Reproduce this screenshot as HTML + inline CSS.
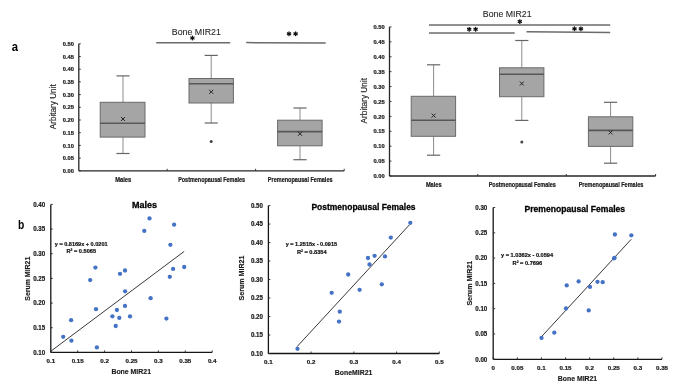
<!DOCTYPE html>
<html><head><meta charset="utf-8"><style>
html,body{margin:0;padding:0;background:#fff;}
body{width:685px;height:385px;overflow:hidden;}
svg{display:block;font-family:"Liberation Sans", sans-serif;will-change:transform;}
</style></head><body>
<svg width="685" height="385" viewBox="0 0 685 385">
<rect width="685" height="385" fill="#fff"/>
<line x1="78.80" y1="43.80" x2="78.80" y2="170.80" stroke="#262626" stroke-width="1.3"/>
<line x1="78.80" y1="170.80" x2="344.20" y2="170.80" stroke="#262626" stroke-width="1.3"/>
<line x1="78.80" y1="170.80" x2="80.80" y2="170.80" stroke="#262626" stroke-width="0.9"/>
<text x="74.0" y="172.95000000000002" font-size="5.9" font-weight="bold" text-anchor="end" fill="#1a1a1a" textLength="11.2" lengthAdjust="spacingAndGlyphs" stroke="#1a1a1a" stroke-width="0.2">0.00</text>
<line x1="78.80" y1="158.10" x2="80.80" y2="158.10" stroke="#262626" stroke-width="0.9"/>
<text x="74.0" y="160.25000000000003" font-size="5.9" font-weight="bold" text-anchor="end" fill="#1a1a1a" textLength="11.2" lengthAdjust="spacingAndGlyphs" stroke="#1a1a1a" stroke-width="0.2">0.05</text>
<line x1="78.80" y1="145.40" x2="80.80" y2="145.40" stroke="#262626" stroke-width="0.9"/>
<text x="74.0" y="147.55" font-size="5.9" font-weight="bold" text-anchor="end" fill="#1a1a1a" textLength="11.2" lengthAdjust="spacingAndGlyphs" stroke="#1a1a1a" stroke-width="0.2">0.10</text>
<line x1="78.80" y1="132.70" x2="80.80" y2="132.70" stroke="#262626" stroke-width="0.9"/>
<text x="74.0" y="134.85000000000002" font-size="5.9" font-weight="bold" text-anchor="end" fill="#1a1a1a" textLength="11.2" lengthAdjust="spacingAndGlyphs" stroke="#1a1a1a" stroke-width="0.2">0.15</text>
<line x1="78.80" y1="120.00" x2="80.80" y2="120.00" stroke="#262626" stroke-width="0.9"/>
<text x="74.0" y="122.15" font-size="5.9" font-weight="bold" text-anchor="end" fill="#1a1a1a" textLength="11.2" lengthAdjust="spacingAndGlyphs" stroke="#1a1a1a" stroke-width="0.2">0.20</text>
<line x1="78.80" y1="107.30" x2="80.80" y2="107.30" stroke="#262626" stroke-width="0.9"/>
<text x="74.0" y="109.45000000000002" font-size="5.9" font-weight="bold" text-anchor="end" fill="#1a1a1a" textLength="11.2" lengthAdjust="spacingAndGlyphs" stroke="#1a1a1a" stroke-width="0.2">0.25</text>
<line x1="78.80" y1="94.60" x2="80.80" y2="94.60" stroke="#262626" stroke-width="0.9"/>
<text x="74.0" y="96.75000000000001" font-size="5.9" font-weight="bold" text-anchor="end" fill="#1a1a1a" textLength="11.2" lengthAdjust="spacingAndGlyphs" stroke="#1a1a1a" stroke-width="0.2">0.30</text>
<line x1="78.80" y1="81.90" x2="80.80" y2="81.90" stroke="#262626" stroke-width="0.9"/>
<text x="74.0" y="84.05000000000001" font-size="5.9" font-weight="bold" text-anchor="end" fill="#1a1a1a" textLength="11.2" lengthAdjust="spacingAndGlyphs" stroke="#1a1a1a" stroke-width="0.2">0.35</text>
<line x1="78.80" y1="69.20" x2="80.80" y2="69.20" stroke="#262626" stroke-width="0.9"/>
<text x="74.0" y="71.35000000000001" font-size="5.9" font-weight="bold" text-anchor="end" fill="#1a1a1a" textLength="11.2" lengthAdjust="spacingAndGlyphs" stroke="#1a1a1a" stroke-width="0.2">0.40</text>
<line x1="78.80" y1="56.50" x2="80.80" y2="56.50" stroke="#262626" stroke-width="0.9"/>
<text x="74.0" y="58.65" font-size="5.9" font-weight="bold" text-anchor="end" fill="#1a1a1a" textLength="11.2" lengthAdjust="spacingAndGlyphs" stroke="#1a1a1a" stroke-width="0.2">0.45</text>
<line x1="78.80" y1="43.80" x2="80.80" y2="43.80" stroke="#262626" stroke-width="0.9"/>
<text x="74.0" y="45.949999999999996" font-size="5.9" font-weight="bold" text-anchor="end" fill="#1a1a1a" textLength="11.2" lengthAdjust="spacingAndGlyphs" stroke="#1a1a1a" stroke-width="0.2">0.50</text>
<line x1="167.20" y1="170.80" x2="167.20" y2="168.80" stroke="#262626" stroke-width="0.9"/>
<line x1="255.60" y1="170.80" x2="255.60" y2="168.80" stroke="#262626" stroke-width="0.9"/>
<line x1="344.20" y1="170.80" x2="344.20" y2="168.80" stroke="#262626" stroke-width="0.9"/>
<text transform="translate(55.9,106.8) rotate(-90)" font-size="8.2" text-anchor="middle" fill="#262626" stroke="#262626" stroke-width="0.15" textLength="45" lengthAdjust="spacingAndGlyphs">Arbitary Unit</text>
<text x="123.2" y="181.6" font-size="6.3" font-weight="bold" text-anchor="middle" fill="#1a1a1a" textLength="16.1" lengthAdjust="spacingAndGlyphs" stroke="#1a1a1a" stroke-width="0.2">Males</text>
<text x="211.6" y="181.6" font-size="6.3" font-weight="bold" text-anchor="middle" fill="#1a1a1a" textLength="66.9" lengthAdjust="spacingAndGlyphs" stroke="#1a1a1a" stroke-width="0.2">Postmenopausal Females</text>
<text x="300.2" y="181.6" font-size="6.3" font-weight="bold" text-anchor="middle" fill="#1a1a1a" textLength="64.7" lengthAdjust="spacingAndGlyphs" stroke="#1a1a1a" stroke-width="0.2">Premenopausal Females</text>
<line x1="123.00" y1="75.90" x2="123.00" y2="102.30" stroke="#8c8c8c" stroke-width="1"/>
<line x1="123.00" y1="137.10" x2="123.00" y2="153.50" stroke="#8c8c8c" stroke-width="1"/>
<line x1="116.40" y1="75.90" x2="129.60" y2="75.90" stroke="#666" stroke-width="1.2"/>
<line x1="116.40" y1="153.50" x2="129.60" y2="153.50" stroke="#666" stroke-width="1.2"/>
<rect x="100.20" y="102.30" width="44.80" height="34.80" fill="#a5a5a5" stroke="#6a6a6a" stroke-width="1"/>
<line x1="100.20" y1="123.20" x2="145.00" y2="123.20" stroke="#585858" stroke-width="1.6"/>
<line x1="121.00" y1="117.00" x2="125.00" y2="121.00" stroke="#262626" stroke-width="1.0"/>
<line x1="121.00" y1="121.00" x2="125.00" y2="117.00" stroke="#262626" stroke-width="1.0"/>
<line x1="211.20" y1="55.40" x2="211.20" y2="78.50" stroke="#8c8c8c" stroke-width="1"/>
<line x1="211.20" y1="103.00" x2="211.20" y2="123.00" stroke="#8c8c8c" stroke-width="1"/>
<line x1="204.60" y1="55.40" x2="217.80" y2="55.40" stroke="#666" stroke-width="1.2"/>
<line x1="204.60" y1="123.00" x2="217.80" y2="123.00" stroke="#666" stroke-width="1.2"/>
<rect x="189.00" y="78.50" width="44.40" height="24.50" fill="#a5a5a5" stroke="#6a6a6a" stroke-width="1"/>
<line x1="189.00" y1="83.70" x2="233.40" y2="83.70" stroke="#585858" stroke-width="1.6"/>
<line x1="209.20" y1="89.80" x2="213.20" y2="93.80" stroke="#262626" stroke-width="1.0"/>
<line x1="209.20" y1="93.80" x2="213.20" y2="89.80" stroke="#262626" stroke-width="1.0"/>
<circle cx="211.20" cy="141.50" r="1.5" fill="#444"/>
<line x1="300.00" y1="108.00" x2="300.00" y2="120.20" stroke="#8c8c8c" stroke-width="1"/>
<line x1="300.00" y1="145.80" x2="300.00" y2="159.70" stroke="#8c8c8c" stroke-width="1"/>
<line x1="293.40" y1="108.00" x2="306.60" y2="108.00" stroke="#666" stroke-width="1.2"/>
<line x1="293.40" y1="159.70" x2="306.60" y2="159.70" stroke="#666" stroke-width="1.2"/>
<rect x="277.60" y="120.20" width="44.50" height="25.60" fill="#a5a5a5" stroke="#6a6a6a" stroke-width="1"/>
<line x1="277.60" y1="131.60" x2="322.10" y2="131.60" stroke="#585858" stroke-width="1.6"/>
<line x1="298.00" y1="131.80" x2="302.00" y2="135.80" stroke="#262626" stroke-width="1.0"/>
<line x1="298.00" y1="135.80" x2="302.00" y2="131.80" stroke="#262626" stroke-width="1.0"/>
<line x1="389.50" y1="26.90" x2="389.50" y2="176.00" stroke="#262626" stroke-width="1.3"/>
<line x1="389.50" y1="176.00" x2="655.60" y2="176.00" stroke="#262626" stroke-width="1.3"/>
<line x1="389.50" y1="176.00" x2="391.50" y2="176.00" stroke="#262626" stroke-width="0.9"/>
<text x="384.6" y="178.15" font-size="5.9" font-weight="bold" text-anchor="end" fill="#1a1a1a" textLength="11.2" lengthAdjust="spacingAndGlyphs" stroke="#1a1a1a" stroke-width="0.2">0.00</text>
<line x1="389.50" y1="161.09" x2="391.50" y2="161.09" stroke="#262626" stroke-width="0.9"/>
<text x="384.6" y="163.24" font-size="5.9" font-weight="bold" text-anchor="end" fill="#1a1a1a" textLength="11.2" lengthAdjust="spacingAndGlyphs" stroke="#1a1a1a" stroke-width="0.2">0.05</text>
<line x1="389.50" y1="146.18" x2="391.50" y2="146.18" stroke="#262626" stroke-width="0.9"/>
<text x="384.6" y="148.33" font-size="5.9" font-weight="bold" text-anchor="end" fill="#1a1a1a" textLength="11.2" lengthAdjust="spacingAndGlyphs" stroke="#1a1a1a" stroke-width="0.2">0.10</text>
<line x1="389.50" y1="131.27" x2="391.50" y2="131.27" stroke="#262626" stroke-width="0.9"/>
<text x="384.6" y="133.42" font-size="5.9" font-weight="bold" text-anchor="end" fill="#1a1a1a" textLength="11.2" lengthAdjust="spacingAndGlyphs" stroke="#1a1a1a" stroke-width="0.2">0.15</text>
<line x1="389.50" y1="116.36" x2="391.50" y2="116.36" stroke="#262626" stroke-width="0.9"/>
<text x="384.6" y="118.51" font-size="5.9" font-weight="bold" text-anchor="end" fill="#1a1a1a" textLength="11.2" lengthAdjust="spacingAndGlyphs" stroke="#1a1a1a" stroke-width="0.2">0.20</text>
<line x1="389.50" y1="101.45" x2="391.50" y2="101.45" stroke="#262626" stroke-width="0.9"/>
<text x="384.6" y="103.60000000000001" font-size="5.9" font-weight="bold" text-anchor="end" fill="#1a1a1a" textLength="11.2" lengthAdjust="spacingAndGlyphs" stroke="#1a1a1a" stroke-width="0.2">0.25</text>
<line x1="389.50" y1="86.54" x2="391.50" y2="86.54" stroke="#262626" stroke-width="0.9"/>
<text x="384.6" y="88.69" font-size="5.9" font-weight="bold" text-anchor="end" fill="#1a1a1a" textLength="11.2" lengthAdjust="spacingAndGlyphs" stroke="#1a1a1a" stroke-width="0.2">0.30</text>
<line x1="389.50" y1="71.63" x2="391.50" y2="71.63" stroke="#262626" stroke-width="0.9"/>
<text x="384.6" y="73.78" font-size="5.9" font-weight="bold" text-anchor="end" fill="#1a1a1a" textLength="11.2" lengthAdjust="spacingAndGlyphs" stroke="#1a1a1a" stroke-width="0.2">0.35</text>
<line x1="389.50" y1="56.72" x2="391.50" y2="56.72" stroke="#262626" stroke-width="0.9"/>
<text x="384.6" y="58.87" font-size="5.9" font-weight="bold" text-anchor="end" fill="#1a1a1a" textLength="11.2" lengthAdjust="spacingAndGlyphs" stroke="#1a1a1a" stroke-width="0.2">0.40</text>
<line x1="389.50" y1="41.81" x2="391.50" y2="41.81" stroke="#262626" stroke-width="0.9"/>
<text x="384.6" y="43.96" font-size="5.9" font-weight="bold" text-anchor="end" fill="#1a1a1a" textLength="11.2" lengthAdjust="spacingAndGlyphs" stroke="#1a1a1a" stroke-width="0.2">0.45</text>
<line x1="389.50" y1="26.90" x2="391.50" y2="26.90" stroke="#262626" stroke-width="0.9"/>
<text x="384.6" y="29.050000000000004" font-size="5.9" font-weight="bold" text-anchor="end" fill="#1a1a1a" textLength="11.2" lengthAdjust="spacingAndGlyphs" stroke="#1a1a1a" stroke-width="0.2">0.50</text>
<line x1="477.80" y1="176.00" x2="477.80" y2="174.00" stroke="#262626" stroke-width="0.9"/>
<line x1="566.30" y1="176.00" x2="566.30" y2="174.00" stroke="#262626" stroke-width="0.9"/>
<line x1="655.60" y1="176.00" x2="655.60" y2="174.00" stroke="#262626" stroke-width="0.9"/>
<text transform="translate(366.9,100.7) rotate(-90)" font-size="8.2" text-anchor="middle" fill="#262626" stroke="#262626" stroke-width="0.15" textLength="45.4" lengthAdjust="spacingAndGlyphs">Arbitary Unit</text>
<text x="433.8" y="186.6" font-size="6.3" font-weight="bold" text-anchor="middle" fill="#1a1a1a" textLength="15.8" lengthAdjust="spacingAndGlyphs" stroke="#1a1a1a" stroke-width="0.2">Males</text>
<text x="522.3" y="186.6" font-size="6.3" font-weight="bold" text-anchor="middle" fill="#1a1a1a" textLength="67.2" lengthAdjust="spacingAndGlyphs" stroke="#1a1a1a" stroke-width="0.2">Postmenopausal Females</text>
<text x="611.0" y="186.6" font-size="6.3" font-weight="bold" text-anchor="middle" fill="#1a1a1a" textLength="64.7" lengthAdjust="spacingAndGlyphs" stroke="#1a1a1a" stroke-width="0.2">Premenopausal Females</text>
<line x1="433.60" y1="64.80" x2="433.60" y2="96.30" stroke="#8c8c8c" stroke-width="1"/>
<line x1="433.60" y1="136.30" x2="433.60" y2="155.20" stroke="#8c8c8c" stroke-width="1"/>
<line x1="427.00" y1="64.80" x2="440.20" y2="64.80" stroke="#666" stroke-width="1.2"/>
<line x1="427.00" y1="155.20" x2="440.20" y2="155.20" stroke="#666" stroke-width="1.2"/>
<rect x="411.20" y="96.30" width="44.40" height="40.00" fill="#a5a5a5" stroke="#6a6a6a" stroke-width="1"/>
<line x1="411.20" y1="120.20" x2="455.60" y2="120.20" stroke="#585858" stroke-width="1.6"/>
<line x1="431.60" y1="113.60" x2="435.60" y2="117.60" stroke="#262626" stroke-width="1.0"/>
<line x1="431.60" y1="117.60" x2="435.60" y2="113.60" stroke="#262626" stroke-width="1.0"/>
<line x1="521.80" y1="40.50" x2="521.80" y2="67.80" stroke="#8c8c8c" stroke-width="1"/>
<line x1="521.80" y1="96.70" x2="521.80" y2="120.40" stroke="#8c8c8c" stroke-width="1"/>
<line x1="515.20" y1="40.50" x2="528.40" y2="40.50" stroke="#666" stroke-width="1.2"/>
<line x1="515.20" y1="120.40" x2="528.40" y2="120.40" stroke="#666" stroke-width="1.2"/>
<rect x="499.50" y="67.80" width="44.40" height="28.90" fill="#a5a5a5" stroke="#6a6a6a" stroke-width="1"/>
<line x1="499.50" y1="74.30" x2="543.90" y2="74.30" stroke="#585858" stroke-width="1.6"/>
<line x1="519.80" y1="81.50" x2="523.80" y2="85.50" stroke="#262626" stroke-width="1.0"/>
<line x1="519.80" y1="85.50" x2="523.80" y2="81.50" stroke="#262626" stroke-width="1.0"/>
<circle cx="521.80" cy="141.90" r="1.5" fill="#444"/>
<line x1="610.60" y1="102.30" x2="610.60" y2="116.80" stroke="#8c8c8c" stroke-width="1"/>
<line x1="610.60" y1="146.40" x2="610.60" y2="163.20" stroke="#8c8c8c" stroke-width="1"/>
<line x1="604.00" y1="102.30" x2="617.20" y2="102.30" stroke="#666" stroke-width="1.2"/>
<line x1="604.00" y1="163.20" x2="617.20" y2="163.20" stroke="#666" stroke-width="1.2"/>
<rect x="588.40" y="116.80" width="44.40" height="29.60" fill="#a5a5a5" stroke="#6a6a6a" stroke-width="1"/>
<line x1="588.40" y1="130.40" x2="632.80" y2="130.40" stroke="#585858" stroke-width="1.6"/>
<line x1="608.60" y1="130.40" x2="612.60" y2="134.40" stroke="#262626" stroke-width="1.0"/>
<line x1="608.60" y1="134.40" x2="612.60" y2="130.40" stroke="#262626" stroke-width="1.0"/>
<text x="196.3" y="34.6" font-size="9.8" font-weight="normal" text-anchor="middle" fill="#262626" textLength="49.1" lengthAdjust="spacingAndGlyphs" stroke="#262626" stroke-width="0.1">Bone MIR21</text>
<line x1="156.20" y1="42.70" x2="230.20" y2="42.70" stroke="#6b6b6b" stroke-width="1.5"/>
<line x1="246.20" y1="42.60" x2="325.70" y2="43.00" stroke="#6b6b6b" stroke-width="1.5"/>
<line x1="192.40" y1="35.60" x2="192.40" y2="40.40" stroke="#111" stroke-width="1.25"/><line x1="190.32" y1="36.80" x2="194.48" y2="39.20" stroke="#111" stroke-width="1.25"/><line x1="194.48" y1="36.80" x2="190.32" y2="39.20" stroke="#111" stroke-width="1.25"/>
<line x1="289.00" y1="31.40" x2="289.00" y2="36.20" stroke="#111" stroke-width="1.25"/><line x1="286.92" y1="32.60" x2="291.08" y2="35.00" stroke="#111" stroke-width="1.25"/><line x1="291.08" y1="32.60" x2="286.92" y2="35.00" stroke="#111" stroke-width="1.25"/>
<line x1="295.60" y1="31.40" x2="295.60" y2="36.20" stroke="#111" stroke-width="1.25"/><line x1="293.52" y1="32.60" x2="297.68" y2="35.00" stroke="#111" stroke-width="1.25"/><line x1="297.68" y1="32.60" x2="293.52" y2="35.00" stroke="#111" stroke-width="1.25"/>
<text x="507.2" y="17.4" font-size="9.8" font-weight="normal" text-anchor="middle" fill="#262626" textLength="48.8" lengthAdjust="spacingAndGlyphs" stroke="#262626" stroke-width="0.1">Bone MIR21</text>
<line x1="429.00" y1="24.90" x2="610.20" y2="24.90" stroke="#6b6b6b" stroke-width="1.5"/>
<line x1="429.00" y1="32.90" x2="514.70" y2="32.90" stroke="#6b6b6b" stroke-width="1.5"/>
<line x1="526.50" y1="31.70" x2="610.20" y2="32.50" stroke="#6b6b6b" stroke-width="1.5"/>
<line x1="519.80" y1="19.20" x2="519.80" y2="24.00" stroke="#111" stroke-width="1.25"/><line x1="517.72" y1="20.40" x2="521.88" y2="22.80" stroke="#111" stroke-width="1.25"/><line x1="521.88" y1="20.40" x2="517.72" y2="22.80" stroke="#111" stroke-width="1.25"/>
<line x1="469.20" y1="26.90" x2="469.20" y2="31.70" stroke="#111" stroke-width="1.25"/><line x1="467.12" y1="28.10" x2="471.28" y2="30.50" stroke="#111" stroke-width="1.25"/><line x1="471.28" y1="28.10" x2="467.12" y2="30.50" stroke="#111" stroke-width="1.25"/>
<line x1="475.60" y1="26.90" x2="475.60" y2="31.70" stroke="#111" stroke-width="1.25"/><line x1="473.52" y1="28.10" x2="477.68" y2="30.50" stroke="#111" stroke-width="1.25"/><line x1="477.68" y1="28.10" x2="473.52" y2="30.50" stroke="#111" stroke-width="1.25"/>
<line x1="574.50" y1="26.40" x2="574.50" y2="31.20" stroke="#111" stroke-width="1.25"/><line x1="572.42" y1="27.60" x2="576.58" y2="30.00" stroke="#111" stroke-width="1.25"/><line x1="576.58" y1="27.60" x2="572.42" y2="30.00" stroke="#111" stroke-width="1.25"/>
<line x1="580.90" y1="26.40" x2="580.90" y2="31.20" stroke="#111" stroke-width="1.25"/><line x1="578.82" y1="27.60" x2="582.98" y2="30.00" stroke="#111" stroke-width="1.25"/><line x1="582.98" y1="27.60" x2="578.82" y2="30.00" stroke="#111" stroke-width="1.25"/>
<text x="11.7" y="51.0" font-size="12.5" font-weight="bold" text-anchor="start" fill="#000" textLength="6.3" lengthAdjust="spacingAndGlyphs">a</text>
<text x="18.0" y="229.1" font-size="12" font-weight="bold" text-anchor="start" fill="#000" textLength="6.3" lengthAdjust="spacingAndGlyphs">b</text>
<line x1="50.80" y1="204.40" x2="50.80" y2="352.40" stroke="#151515" stroke-width="1.3"/>
<line x1="50.80" y1="352.40" x2="212.20" y2="352.40" stroke="#151515" stroke-width="1.3"/>
<line x1="50.80" y1="352.40" x2="52.80" y2="352.40" stroke="#262626" stroke-width="0.9"/>
<text x="45.2" y="354.7" font-size="6.4" font-weight="bold" text-anchor="end" fill="#1a1a1a" textLength="12.0" lengthAdjust="spacingAndGlyphs" stroke="#1a1a1a" stroke-width="0.2">0.10</text>
<line x1="50.80" y1="327.73" x2="52.80" y2="327.73" stroke="#262626" stroke-width="0.9"/>
<text x="45.2" y="330.03333333333336" font-size="6.4" font-weight="bold" text-anchor="end" fill="#1a1a1a" textLength="12.0" lengthAdjust="spacingAndGlyphs" stroke="#1a1a1a" stroke-width="0.2">0.15</text>
<line x1="50.80" y1="303.07" x2="52.80" y2="303.07" stroke="#262626" stroke-width="0.9"/>
<text x="45.2" y="305.3666666666667" font-size="6.4" font-weight="bold" text-anchor="end" fill="#1a1a1a" textLength="12.0" lengthAdjust="spacingAndGlyphs" stroke="#1a1a1a" stroke-width="0.2">0.20</text>
<line x1="50.80" y1="278.40" x2="52.80" y2="278.40" stroke="#262626" stroke-width="0.9"/>
<text x="45.2" y="280.7" font-size="6.4" font-weight="bold" text-anchor="end" fill="#1a1a1a" textLength="12.0" lengthAdjust="spacingAndGlyphs" stroke="#1a1a1a" stroke-width="0.2">0.25</text>
<line x1="50.80" y1="253.73" x2="52.80" y2="253.73" stroke="#262626" stroke-width="0.9"/>
<text x="45.2" y="256.03333333333336" font-size="6.4" font-weight="bold" text-anchor="end" fill="#1a1a1a" textLength="12.0" lengthAdjust="spacingAndGlyphs" stroke="#1a1a1a" stroke-width="0.2">0.30</text>
<line x1="50.80" y1="229.07" x2="52.80" y2="229.07" stroke="#262626" stroke-width="0.9"/>
<text x="45.2" y="231.3666666666667" font-size="6.4" font-weight="bold" text-anchor="end" fill="#1a1a1a" textLength="12.0" lengthAdjust="spacingAndGlyphs" stroke="#1a1a1a" stroke-width="0.2">0.35</text>
<line x1="50.80" y1="204.40" x2="52.80" y2="204.40" stroke="#262626" stroke-width="0.9"/>
<text x="45.2" y="206.7" font-size="6.4" font-weight="bold" text-anchor="end" fill="#1a1a1a" textLength="12.0" lengthAdjust="spacingAndGlyphs" stroke="#1a1a1a" stroke-width="0.2">0.40</text>
<line x1="50.80" y1="352.40" x2="50.80" y2="350.40" stroke="#262626" stroke-width="0.9"/>
<text x="50.8" y="363.0" font-size="6.2" font-weight="bold" text-anchor="middle" fill="#1a1a1a" stroke="#1a1a1a" stroke-width="0.2">0.1</text>
<line x1="77.70" y1="352.40" x2="77.70" y2="350.40" stroke="#262626" stroke-width="0.9"/>
<text x="77.69999999999999" y="363.0" font-size="6.2" font-weight="bold" text-anchor="middle" fill="#1a1a1a" stroke="#1a1a1a" stroke-width="0.2">0.15</text>
<line x1="104.60" y1="352.40" x2="104.60" y2="350.40" stroke="#262626" stroke-width="0.9"/>
<text x="104.6" y="363.0" font-size="6.2" font-weight="bold" text-anchor="middle" fill="#1a1a1a" stroke="#1a1a1a" stroke-width="0.2">0.2</text>
<line x1="131.50" y1="352.40" x2="131.50" y2="350.40" stroke="#262626" stroke-width="0.9"/>
<text x="131.5" y="363.0" font-size="6.2" font-weight="bold" text-anchor="middle" fill="#1a1a1a" stroke="#1a1a1a" stroke-width="0.2">0.25</text>
<line x1="158.40" y1="352.40" x2="158.40" y2="350.40" stroke="#262626" stroke-width="0.9"/>
<text x="158.39999999999998" y="363.0" font-size="6.2" font-weight="bold" text-anchor="middle" fill="#1a1a1a" stroke="#1a1a1a" stroke-width="0.2">0.3</text>
<line x1="185.30" y1="352.40" x2="185.30" y2="350.40" stroke="#262626" stroke-width="0.9"/>
<text x="185.29999999999995" y="363.0" font-size="6.2" font-weight="bold" text-anchor="middle" fill="#1a1a1a" stroke="#1a1a1a" stroke-width="0.2">0.35</text>
<line x1="212.20" y1="352.40" x2="212.20" y2="350.40" stroke="#262626" stroke-width="0.9"/>
<text x="212.2" y="363.0" font-size="6.2" font-weight="bold" text-anchor="middle" fill="#1a1a1a" stroke="#1a1a1a" stroke-width="0.2">0.4</text>
<text x="132.1" y="208.2" font-size="9" font-weight="bold" text-anchor="start" fill="#000" textLength="25.0" lengthAdjust="spacingAndGlyphs" stroke="#000" stroke-width="0.3">Males</text>
<text x="54.8" y="245.6" font-size="6.0" font-weight="bold" text-anchor="start" fill="#111" textLength="52.8" lengthAdjust="spacingAndGlyphs" stroke="#111" stroke-width="0.2">y = 0.8169x + 0.0201</text>
<text x="66.5" y="252.8" font-size="6.0" font-weight="bold" text-anchor="start" fill="#111" textLength="29.6" lengthAdjust="spacingAndGlyphs" stroke="#111" stroke-width="0.2">R² = 0.5065</text>
<text x="111.4" y="374.0" font-size="7" font-weight="bold" text-anchor="start" fill="#1a1a1a" textLength="39.6" lengthAdjust="spacingAndGlyphs" stroke="#1a1a1a" stroke-width="0.15">Bone MIR21</text>
<text transform="translate(30.0,278.7) rotate(-90)" font-size="7" font-weight="bold" text-anchor="middle" fill="#1a1a1a" stroke="#1a1a1a" stroke-width="0.15" textLength="44.1" lengthAdjust="spacingAndGlyphs">Serum MIR21</text>
<line x1="51.00" y1="351.10" x2="184.20" y2="251.40" stroke="#383838" stroke-width="1.0"/>
<circle cx="149.5" cy="218.4" r="2.15" fill="#4472c4"/>
<circle cx="174.1" cy="224.7" r="2.15" fill="#4472c4"/>
<circle cx="144.3" cy="230.9" r="2.15" fill="#4472c4"/>
<circle cx="170.4" cy="244.8" r="2.15" fill="#4472c4"/>
<circle cx="184.2" cy="267.0" r="2.15" fill="#4472c4"/>
<circle cx="173.1" cy="268.9" r="2.15" fill="#4472c4"/>
<circle cx="169.8" cy="276.8" r="2.15" fill="#4472c4"/>
<circle cx="95.4" cy="267.6" r="2.15" fill="#4472c4"/>
<circle cx="90.2" cy="280.1" r="2.15" fill="#4472c4"/>
<circle cx="120.0" cy="273.8" r="2.15" fill="#4472c4"/>
<circle cx="125.0" cy="270.5" r="2.15" fill="#4472c4"/>
<circle cx="125.1" cy="291.3" r="2.15" fill="#4472c4"/>
<circle cx="150.6" cy="298.2" r="2.15" fill="#4472c4"/>
<circle cx="125.0" cy="305.9" r="2.15" fill="#4472c4"/>
<circle cx="96.0" cy="309.2" r="2.15" fill="#4472c4"/>
<circle cx="116.9" cy="310.0" r="2.15" fill="#4472c4"/>
<circle cx="112.4" cy="316.3" r="2.15" fill="#4472c4"/>
<circle cx="119.3" cy="317.9" r="2.15" fill="#4472c4"/>
<circle cx="130.0" cy="316.4" r="2.15" fill="#4472c4"/>
<circle cx="166.4" cy="318.6" r="2.15" fill="#4472c4"/>
<circle cx="115.7" cy="326.0" r="2.15" fill="#4472c4"/>
<circle cx="96.9" cy="347.4" r="2.15" fill="#4472c4"/>
<circle cx="63.2" cy="336.8" r="2.15" fill="#4472c4"/>
<circle cx="71.4" cy="340.7" r="2.15" fill="#4472c4"/>
<circle cx="71.1" cy="320.2" r="2.15" fill="#4472c4"/>
<line x1="268.40" y1="205.60" x2="268.40" y2="353.50" stroke="#151515" stroke-width="1.3"/>
<line x1="268.40" y1="353.50" x2="439.30" y2="353.50" stroke="#151515" stroke-width="1.3"/>
<line x1="268.40" y1="353.50" x2="270.40" y2="353.50" stroke="#262626" stroke-width="0.9"/>
<text x="262.9" y="355.8" font-size="6.4" font-weight="bold" text-anchor="end" fill="#1a1a1a" textLength="12.0" lengthAdjust="spacingAndGlyphs" stroke="#1a1a1a" stroke-width="0.2">0.10</text>
<line x1="268.40" y1="335.01" x2="270.40" y2="335.01" stroke="#262626" stroke-width="0.9"/>
<text x="262.9" y="337.3125" font-size="6.4" font-weight="bold" text-anchor="end" fill="#1a1a1a" textLength="12.0" lengthAdjust="spacingAndGlyphs" stroke="#1a1a1a" stroke-width="0.2">0.15</text>
<line x1="268.40" y1="316.52" x2="270.40" y2="316.52" stroke="#262626" stroke-width="0.9"/>
<text x="262.9" y="318.825" font-size="6.4" font-weight="bold" text-anchor="end" fill="#1a1a1a" textLength="12.0" lengthAdjust="spacingAndGlyphs" stroke="#1a1a1a" stroke-width="0.2">0.20</text>
<line x1="268.40" y1="298.04" x2="270.40" y2="298.04" stroke="#262626" stroke-width="0.9"/>
<text x="262.9" y="300.33750000000003" font-size="6.4" font-weight="bold" text-anchor="end" fill="#1a1a1a" textLength="12.0" lengthAdjust="spacingAndGlyphs" stroke="#1a1a1a" stroke-width="0.2">0.25</text>
<line x1="268.40" y1="279.55" x2="270.40" y2="279.55" stroke="#262626" stroke-width="0.9"/>
<text x="262.9" y="281.85" font-size="6.4" font-weight="bold" text-anchor="end" fill="#1a1a1a" textLength="12.0" lengthAdjust="spacingAndGlyphs" stroke="#1a1a1a" stroke-width="0.2">0.30</text>
<line x1="268.40" y1="261.06" x2="270.40" y2="261.06" stroke="#262626" stroke-width="0.9"/>
<text x="262.9" y="263.3625" font-size="6.4" font-weight="bold" text-anchor="end" fill="#1a1a1a" textLength="12.0" lengthAdjust="spacingAndGlyphs" stroke="#1a1a1a" stroke-width="0.2">0.35</text>
<line x1="268.40" y1="242.57" x2="270.40" y2="242.57" stroke="#262626" stroke-width="0.9"/>
<text x="262.9" y="244.875" font-size="6.4" font-weight="bold" text-anchor="end" fill="#1a1a1a" textLength="12.0" lengthAdjust="spacingAndGlyphs" stroke="#1a1a1a" stroke-width="0.2">0.40</text>
<line x1="268.40" y1="224.09" x2="270.40" y2="224.09" stroke="#262626" stroke-width="0.9"/>
<text x="262.9" y="226.38750000000002" font-size="6.4" font-weight="bold" text-anchor="end" fill="#1a1a1a" textLength="12.0" lengthAdjust="spacingAndGlyphs" stroke="#1a1a1a" stroke-width="0.2">0.45</text>
<line x1="268.40" y1="205.60" x2="270.40" y2="205.60" stroke="#262626" stroke-width="0.9"/>
<text x="262.9" y="207.9" font-size="6.4" font-weight="bold" text-anchor="end" fill="#1a1a1a" textLength="12.0" lengthAdjust="spacingAndGlyphs" stroke="#1a1a1a" stroke-width="0.2">0.50</text>
<line x1="268.40" y1="353.50" x2="268.40" y2="351.50" stroke="#262626" stroke-width="0.9"/>
<text x="268.4" y="364.2" font-size="6.2" font-weight="bold" text-anchor="middle" fill="#1a1a1a" stroke="#1a1a1a" stroke-width="0.2">0.1</text>
<line x1="311.12" y1="353.50" x2="311.12" y2="351.50" stroke="#262626" stroke-width="0.9"/>
<text x="311.125" y="364.2" font-size="6.2" font-weight="bold" text-anchor="middle" fill="#1a1a1a" stroke="#1a1a1a" stroke-width="0.2">0.2</text>
<line x1="353.85" y1="353.50" x2="353.85" y2="351.50" stroke="#262626" stroke-width="0.9"/>
<text x="353.85" y="364.2" font-size="6.2" font-weight="bold" text-anchor="middle" fill="#1a1a1a" stroke="#1a1a1a" stroke-width="0.2">0.3</text>
<line x1="396.58" y1="353.50" x2="396.58" y2="351.50" stroke="#262626" stroke-width="0.9"/>
<text x="396.57500000000005" y="364.2" font-size="6.2" font-weight="bold" text-anchor="middle" fill="#1a1a1a" stroke="#1a1a1a" stroke-width="0.2">0.4</text>
<line x1="439.30" y1="353.50" x2="439.30" y2="351.50" stroke="#262626" stroke-width="0.9"/>
<text x="439.3" y="364.2" font-size="6.2" font-weight="bold" text-anchor="middle" fill="#1a1a1a" stroke="#1a1a1a" stroke-width="0.2">0.5</text>
<text x="311.4" y="209.9" font-size="9" font-weight="bold" text-anchor="start" fill="#000" textLength="104.2" lengthAdjust="spacingAndGlyphs" stroke="#000" stroke-width="0.3">Postmenopausal Females</text>
<text x="285.7" y="246.2" font-size="6.0" font-weight="bold" text-anchor="start" fill="#111" textLength="51.4" lengthAdjust="spacingAndGlyphs" stroke="#111" stroke-width="0.2">y = 1.2515x - 0.0915</text>
<text x="297.0" y="254.0" font-size="6.0" font-weight="bold" text-anchor="start" fill="#111" textLength="29.6" lengthAdjust="spacingAndGlyphs" stroke="#111" stroke-width="0.2">R² = 0.8354</text>
<text x="334.8" y="375.2" font-size="7" font-weight="bold" text-anchor="start" fill="#1a1a1a" textLength="37.5" lengthAdjust="spacingAndGlyphs" stroke="#1a1a1a" stroke-width="0.15">BoneMIR21</text>
<text transform="translate(244.2,278.0) rotate(-90)" font-size="7" font-weight="bold" text-anchor="middle" fill="#1a1a1a" stroke="#1a1a1a" stroke-width="0.15" textLength="44.8" lengthAdjust="spacingAndGlyphs">Serum MIR21</text>
<line x1="297.00" y1="346.70" x2="409.80" y2="224.40" stroke="#383838" stroke-width="1.0"/>
<circle cx="410.3" cy="222.8" r="2.15" fill="#4472c4"/>
<circle cx="390.8" cy="237.6" r="2.15" fill="#4472c4"/>
<circle cx="368.0" cy="258.0" r="2.15" fill="#4472c4"/>
<circle cx="374.6" cy="255.8" r="2.15" fill="#4472c4"/>
<circle cx="385.0" cy="256.4" r="2.15" fill="#4472c4"/>
<circle cx="369.5" cy="264.5" r="2.15" fill="#4472c4"/>
<circle cx="348.2" cy="274.5" r="2.15" fill="#4472c4"/>
<circle cx="381.8" cy="284.3" r="2.15" fill="#4472c4"/>
<circle cx="359.6" cy="289.8" r="2.15" fill="#4472c4"/>
<circle cx="331.7" cy="292.8" r="2.15" fill="#4472c4"/>
<circle cx="339.8" cy="311.7" r="2.15" fill="#4472c4"/>
<circle cx="339.0" cy="321.6" r="2.15" fill="#4472c4"/>
<circle cx="297.5" cy="348.8" r="2.15" fill="#4472c4"/>
<line x1="493.20" y1="207.50" x2="493.20" y2="359.30" stroke="#151515" stroke-width="1.3"/>
<line x1="493.20" y1="359.30" x2="662.00" y2="359.30" stroke="#151515" stroke-width="1.3"/>
<line x1="493.20" y1="359.30" x2="495.20" y2="359.30" stroke="#262626" stroke-width="0.9"/>
<text x="487.3" y="361.6" font-size="6.4" font-weight="bold" text-anchor="end" fill="#1a1a1a" textLength="12.0" lengthAdjust="spacingAndGlyphs" stroke="#1a1a1a" stroke-width="0.2">0.00</text>
<line x1="493.20" y1="334.00" x2="495.20" y2="334.00" stroke="#262626" stroke-width="0.9"/>
<text x="487.3" y="336.3" font-size="6.4" font-weight="bold" text-anchor="end" fill="#1a1a1a" textLength="12.0" lengthAdjust="spacingAndGlyphs" stroke="#1a1a1a" stroke-width="0.2">0.05</text>
<line x1="493.20" y1="308.70" x2="495.20" y2="308.70" stroke="#262626" stroke-width="0.9"/>
<text x="487.3" y="311.0" font-size="6.4" font-weight="bold" text-anchor="end" fill="#1a1a1a" textLength="12.0" lengthAdjust="spacingAndGlyphs" stroke="#1a1a1a" stroke-width="0.2">0.10</text>
<line x1="493.20" y1="283.40" x2="495.20" y2="283.40" stroke="#262626" stroke-width="0.9"/>
<text x="487.3" y="285.7" font-size="6.4" font-weight="bold" text-anchor="end" fill="#1a1a1a" textLength="12.0" lengthAdjust="spacingAndGlyphs" stroke="#1a1a1a" stroke-width="0.2">0.15</text>
<line x1="493.20" y1="258.10" x2="495.20" y2="258.10" stroke="#262626" stroke-width="0.9"/>
<text x="487.3" y="260.40000000000003" font-size="6.4" font-weight="bold" text-anchor="end" fill="#1a1a1a" textLength="12.0" lengthAdjust="spacingAndGlyphs" stroke="#1a1a1a" stroke-width="0.2">0.20</text>
<line x1="493.20" y1="232.80" x2="495.20" y2="232.80" stroke="#262626" stroke-width="0.9"/>
<text x="487.3" y="235.10000000000002" font-size="6.4" font-weight="bold" text-anchor="end" fill="#1a1a1a" textLength="12.0" lengthAdjust="spacingAndGlyphs" stroke="#1a1a1a" stroke-width="0.2">0.25</text>
<line x1="493.20" y1="207.50" x2="495.20" y2="207.50" stroke="#262626" stroke-width="0.9"/>
<text x="487.3" y="209.8" font-size="6.4" font-weight="bold" text-anchor="end" fill="#1a1a1a" textLength="12.0" lengthAdjust="spacingAndGlyphs" stroke="#1a1a1a" stroke-width="0.2">0.30</text>
<line x1="493.20" y1="359.30" x2="493.20" y2="357.30" stroke="#262626" stroke-width="0.9"/>
<text x="493.2" y="369.8" font-size="6.2" font-weight="bold" text-anchor="middle" fill="#1a1a1a" stroke="#1a1a1a" stroke-width="0.2">0</text>
<line x1="517.31" y1="359.30" x2="517.31" y2="357.30" stroke="#262626" stroke-width="0.9"/>
<text x="517.3142857142857" y="369.8" font-size="6.2" font-weight="bold" text-anchor="middle" fill="#1a1a1a" stroke="#1a1a1a" stroke-width="0.2">0.05</text>
<line x1="541.43" y1="359.30" x2="541.43" y2="357.30" stroke="#262626" stroke-width="0.9"/>
<text x="541.4285714285714" y="369.8" font-size="6.2" font-weight="bold" text-anchor="middle" fill="#1a1a1a" stroke="#1a1a1a" stroke-width="0.2">0.1</text>
<line x1="565.54" y1="359.30" x2="565.54" y2="357.30" stroke="#262626" stroke-width="0.9"/>
<text x="565.5428571428571" y="369.8" font-size="6.2" font-weight="bold" text-anchor="middle" fill="#1a1a1a" stroke="#1a1a1a" stroke-width="0.2">0.15</text>
<line x1="589.66" y1="359.30" x2="589.66" y2="357.30" stroke="#262626" stroke-width="0.9"/>
<text x="589.6571428571428" y="369.8" font-size="6.2" font-weight="bold" text-anchor="middle" fill="#1a1a1a" stroke="#1a1a1a" stroke-width="0.2">0.2</text>
<line x1="613.77" y1="359.30" x2="613.77" y2="357.30" stroke="#262626" stroke-width="0.9"/>
<text x="613.7714285714286" y="369.8" font-size="6.2" font-weight="bold" text-anchor="middle" fill="#1a1a1a" stroke="#1a1a1a" stroke-width="0.2">0.25</text>
<line x1="637.89" y1="359.30" x2="637.89" y2="357.30" stroke="#262626" stroke-width="0.9"/>
<text x="637.8857142857142" y="369.8" font-size="6.2" font-weight="bold" text-anchor="middle" fill="#1a1a1a" stroke="#1a1a1a" stroke-width="0.2">0.3</text>
<line x1="662.00" y1="359.30" x2="662.00" y2="357.30" stroke="#262626" stroke-width="0.9"/>
<text x="662.0" y="369.8" font-size="6.2" font-weight="bold" text-anchor="middle" fill="#1a1a1a" stroke="#1a1a1a" stroke-width="0.2">0.35</text>
<text x="524.5" y="211.6" font-size="9" font-weight="bold" text-anchor="start" fill="#000" textLength="100.6" lengthAdjust="spacingAndGlyphs" stroke="#000" stroke-width="0.3">Premenopausal Females</text>
<text x="501.1" y="257.1" font-size="6.0" font-weight="bold" text-anchor="start" fill="#111" textLength="52.0" lengthAdjust="spacingAndGlyphs" stroke="#111" stroke-width="0.2">y = 1.0362x - 0.0594</text>
<text x="512.6" y="265.0" font-size="6.0" font-weight="bold" text-anchor="start" fill="#111" textLength="29.6" lengthAdjust="spacingAndGlyphs" stroke="#111" stroke-width="0.2">R² = 0.7696</text>
<text x="557.8" y="380.9" font-size="7" font-weight="bold" text-anchor="start" fill="#1a1a1a" textLength="39.4" lengthAdjust="spacingAndGlyphs" stroke="#1a1a1a" stroke-width="0.15">Bone MIR21</text>
<text transform="translate(471.7,283.2) rotate(-90)" font-size="7" font-weight="bold" text-anchor="middle" fill="#1a1a1a" stroke="#1a1a1a" stroke-width="0.15" textLength="44.8" lengthAdjust="spacingAndGlyphs">Serum MIR21</text>
<line x1="541.60" y1="336.60" x2="631.20" y2="239.30" stroke="#383838" stroke-width="1.0"/>
<circle cx="614.9" cy="234.5" r="2.15" fill="#4472c4"/>
<circle cx="631.3" cy="235.3" r="2.15" fill="#4472c4"/>
<circle cx="614.0" cy="258.4" r="2.15" fill="#4472c4"/>
<circle cx="614.6" cy="257.8" r="2.15" fill="#4472c4"/>
<circle cx="566.7" cy="285.4" r="2.15" fill="#4472c4"/>
<circle cx="578.6" cy="281.4" r="2.15" fill="#4472c4"/>
<circle cx="590.0" cy="286.9" r="2.15" fill="#4472c4"/>
<circle cx="597.5" cy="281.8" r="2.15" fill="#4472c4"/>
<circle cx="602.7" cy="282.2" r="2.15" fill="#4472c4"/>
<circle cx="566.0" cy="308.5" r="2.15" fill="#4472c4"/>
<circle cx="588.7" cy="310.4" r="2.15" fill="#4472c4"/>
<circle cx="554.3" cy="332.7" r="2.15" fill="#4472c4"/>
<circle cx="541.5" cy="337.9" r="2.15" fill="#4472c4"/>
</svg>
</body></html>
